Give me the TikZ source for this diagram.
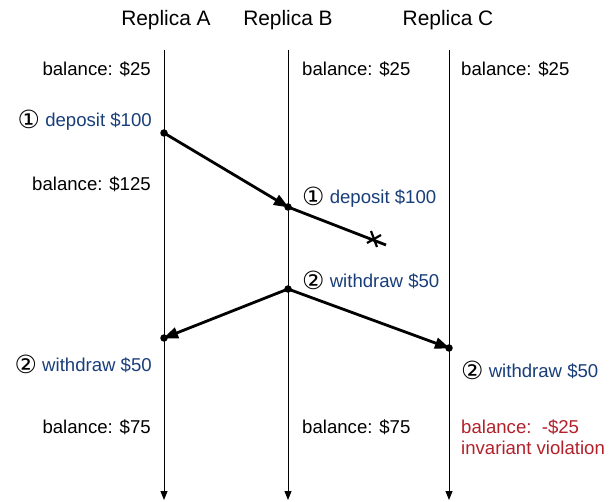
\documentclass[tikz,border=0pt]{standalone}
\usepackage{fontspec}
\setmainfont{Liberation Sans}
\newfontfamily\symfont{DejaVu Sans}
\usetikzlibrary{arrows.meta,calc}
\definecolor{opblue}{RGB}{24,62,122}
\definecolor{badred}{RGB}{178,32,42}
\tikzset{
  txt/.style={inner sep=0pt, font=\fontsize{18.6}{21}\selectfont},
  hdr/.style={inner sep=0pt, font=\fontsize{20.9}{23}\selectfont},
  op/.style={txt, text=opblue},
  timeline/.style={line width=0.9pt, -{Triangle[length=9pt,width=7pt]}},
  msg/.style={line width=2.8pt, -{Triangle[length=15pt,width=11pt]}, shorten >=-1pt},
  evdot/.style={circle, fill=black, inner sep=0pt, minimum size=7.5pt},
}
\newcommand{\circnum}[1]{{\symfont\fontsize{25}{25}\selectfont\raisebox{-1.5pt}{#1}}}
\begin{document}
\begin{tikzpicture}[x=1pt,y=-1pt]
\useasboundingbox (0,0) rectangle (610,502);
% headers
\node[hdr] (hA) at (166,20) {Replica A};
\node[hdr] (hB) at (288,20) {Replica B};
\node[hdr] (hC) at (448,20) {Replica C};
% timelines
\coordinate (tA0) at (164,50); \coordinate (tA1) at (164,500);
\coordinate (tB0) at (288,50); \coordinate (tB1) at (288,500);
\coordinate (tC0) at (449,50); \coordinate (tC1) at (449,500);
\draw[timeline] (tA0) -- (tA1);
\draw[timeline] (tB0) -- (tB1);
\draw[timeline] (tC0) -- (tC1);
% initial balances
\node[txt, anchor=east] (balA0) at (151,69) {balance: \$25};
\node[txt, anchor=west] (balB0) at (302,69) {balance: \$25};
\node[txt, anchor=west] (balC0) at (461,69) {balance: \$25};
% events
\node[evdot] (eA1) at (164,133) {};
\node[evdot] (eB1) at (288,207) {};
\node[evdot] (eB2) at (288,289) {};
\node[evdot] (eA2) at (164,338) {};
\node[evdot] (eC2) at (449,348) {};
% labels
\node[op, anchor=east] (lA1) at (152,120) {\textcolor{black}{\circnum{①}} deposit \$100};
\node[txt, anchor=east] (balA1) at (151,184) {balance: \$125};
\node[op, anchor=west] (lB1) at (302,197) {\textcolor{black}{\circnum{①}} deposit \$100};
\node[op, anchor=west] (lB2) at (302,280) {\textcolor{black}{\circnum{②}} withdraw \$50};
\node[op, anchor=east] (lA2) at (152,364) {\textcolor{black}{\circnum{②}} withdraw \$50};
\node[op, anchor=west] (lC2) at (461,370) {\textcolor{black}{\circnum{②}} withdraw \$50};
\node[txt, anchor=east] (balA2) at (151,427) {balance: \$75};
\node[txt, anchor=west] (balB2) at (302,427) {balance: \$75};
\node[txt, anchor=west, text=badred, align=left] (balC2) at (461,437)
  {balance:\ \ -\$25\\invariant violation};
% messages
\draw[msg] (eA1.center) -- (eB1.center);
\draw[msg] (eB2.center) -- (eA2.center);
\draw[msg] (eB2.center) -- (eC2.center);
% lost message
\coordinate (lost) at (386,245);
\coordinate (xc) at (374,239);
\draw[line width=2.8pt] (eB1.center) -- (lost);
\draw[line width=2.2pt] ($(xc)+(-3,-8)$) -- ($(xc)+(3,8)$);
\draw[line width=2.2pt] ($(xc)+(-7,4)$) -- ($(xc)+(7,-4)$);
\end{tikzpicture}
\end{document}
